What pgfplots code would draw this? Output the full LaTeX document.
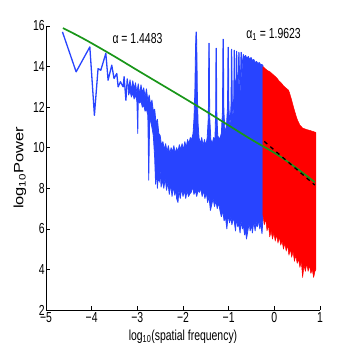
\documentclass[border=0pt]{standalone}
\usepackage{fontspec}
\setmainfont[FakeStretch=0.72]{Liberation Sans}
\newfontfamily\ylabfont[FakeStretch=1.22]{Liberation Sans}
\usepackage{pgfplots}
\pgfplotsset{compat=1.18}
\definecolor{mblue}{RGB}{40,68,255}
\definecolor{mgreen}{RGB}{25,150,25}

\begin{document}
\begin{tikzpicture}
\path[use as bounding box] (-46pt,-44pt) rectangle (308pt,310pt);
\begin{axis}[
  at={(0,0)}, anchor=south west,
  scale only axis, width=274pt, height=284pt,
  xmin=-5, xmax=1, ymin=2, ymax=16,
  axis lines=left, axis line style={-, line width=0.6pt},
  tick align=inside, major tick length=4pt,
  tick style={line width=0.6pt, black},
  xtick={-5,-4,-3,-2,-1,0,1}, xticklabels={−5,−4,−3,−2,−1,0,1},
  ytick={2,4,...,16},
  /pgf/number format/assume math mode=true,
  tick label style={font=\fontsize{14.5}{16}\selectfont},
  xticklabel style={inner sep=1pt, yshift=-1.5pt},
  yticklabel style={inner sep=1pt},
  xlabel={log\textsubscript{10}(spatial frequency)},
  ylabel={\ylabfont log\textsubscript{10}Power},
  xlabel style={font=\fontsize{14.5}{16}\selectfont, at={(axis description cs:0.5,-0.095)}, anchor=center},
  ylabel style={font=\fontsize{13.5}{15}\selectfont, at={(axis description cs:-0.095,0.5)}, anchor=center},
  line join=round,
]
% low-frequency part of the spectrum
\addplot[mblue, line width=1.3pt] coordinates {
 (-4.64,15.71) (-4.34,13.74) (-4.04,14.97) (-3.94,11.6) (-3.86,13.9) (-3.80,13.82)
 (-3.69,14.65) (-3.64,13.33) (-3.56,14.07) (-3.51,13.41) (-3.45,13.66) (-3.42,13.0)
 (-3.37,13.25) (-3.31,13.0) (-3.29,13.5) (-3.25,12.34) (-3.22,13.4)
};
% dense blue band: upper envelope left to right, lower envelope right to left
\addplot[mblue, fill=mblue, line width=0.8pt] coordinates {
 (-3.22,13.4) (-3.19,12.9) (-3.16,13.35) (-3.13,12.8) (-3.10,13.3) (-3.07,12.9)
 (-3.04,13.2) (-3.01,12.7) (-2.98,13.15) (-2.95,12.6) (-2.92,13.1) (-2.89,12.7)
 (-2.86,12.95) (-2.83,12.5) (-2.80,12.9) (-2.77,12.3) (-2.74,12.6) (-2.71,12.1)
 (-2.68,12.35) (-2.65,11.8) (-2.62,11.9) (-2.59,11.2) (-2.56,11.4) (-2.53,10.7)
 (-2.50,10.6) (-2.47,10.1) (-2.44,10.3) (-2.41,9.9) (-2.38,10.2) (-2.35,9.8)
 (-2.32,10.1) (-2.29,9.7) (-2.26,10.0) (-2.23,9.8) (-2.20,10.1) (-2.17,9.7)
 (-2.14,10.0) (-2.11,9.8) (-2.08,10.15) (-2.05,9.9) (-2.02,10.2) (-1.99,9.9)
 (-1.96,10.3) (-1.93,10.0) (-1.90,10.4) (-1.87,10.2) (-1.84,10.5) (-1.81,10.4)
 (-1.78,10.7) (-1.76,11.4) (-1.74,12.8) (-1.725,15.0) (-1.715,15.7) (-1.705,15.7)
 (-1.695,14.5) (-1.685,12.6) (-1.67,11.2) (-1.65,10.5) (-1.62,10.2) (-1.59,10.5)
 (-1.56,10.1) (-1.53,10.4) (-1.50,10.1) (-1.47,10.5) (-1.445,11.5) (-1.435,15.15)
 (-1.425,15.15) (-1.415,11.5) (-1.39,10.4) (-1.36,10.2) (-1.33,10.5) (-1.30,10.4)
 (-1.285,11.8) (-1.278,14.9) (-1.268,14.9) (-1.26,11.8) (-1.24,10.6) (-1.20,10.4)
 (-1.16,10.7) (-1.135,11.8) (-1.125,15.35) (-1.115,15.35) (-1.105,11.8) (-1.08,10.8)
 (-1.05,11.0) (-1.025,12.0) (-1.015,14.95) (-1.005,14.95) (-0.995,12.0) (-0.97,11.0)
 (-0.948,12.2) (-0.94,14.85) (-0.932,14.85) (-0.92,12.3) (-0.905,11.3) (-0.888,12.6)
 (-0.880,14.8) (-0.872,14.8) (-0.862,12.8) (-0.850,11.7) (-0.838,13.0) (-0.830,14.75)
 (-0.822,14.75) (-0.812,13.2) (-0.800,12.0) (-0.788,13.4) (-0.780,14.7) (-0.772,14.7)
 (-0.762,13.6) (-0.750,12.4) (-0.738,13.8) (-0.730,14.7) (-0.722,14.7) (-0.71,13.0)
 (-0.70,14.2) (-0.68,14.6) (-0.66,14.45) (-0.63,14.55) (-0.60,14.4) (-0.57,14.5)
 (-0.54,14.35) (-0.51,14.45) (-0.48,14.3) (-0.45,14.35) (-0.42,14.2) (-0.39,14.25)
 (-0.36,14.15) (-0.33,14.2) (-0.30,14.1) (-0.27,14.1) (-0.25,14.05)
 (-0.25,6.5) (-0.27,5.76) (-0.30,6.3) (-0.32,6.0) (-0.34,6.6) (-0.36,6.17)
 (-0.38,6.1) (-0.40,6.4) (-0.42,5.9) (-0.45,6.4) (-0.48,5.8) (-0.50,6.2)
 (-0.53,5.9) (-0.55,6.3) (-0.58,5.9) (-0.61,5.5) (-0.63,6.0) (-0.65,5.7)
 (-0.68,6.2) (-0.70,6.0) (-0.73,6.4) (-0.75,5.8) (-0.78,6.3) (-0.80,6.1)
 (-0.83,6.5) (-0.85,5.9) (-0.88,6.4) (-0.90,6.5) (-0.93,6.2) (-0.95,6.6)
 (-0.98,6.3) (-1.01,6.7) (-1.04,6.0) (-1.07,6.6) (-1.10,6.4) (-1.13,6.9)
 (-1.16,6.6) (-1.19,6.9) (-1.22,7.3) (-1.25,7.0) (-1.28,7.4) (-1.31,7.1)
 (-1.34,7.5) (-1.37,7.2) (-1.40,6.91) (-1.43,7.6) (-1.46,7.3) (-1.49,7.8)
 (-1.52,7.5) (-1.55,7.9) (-1.58,7.6) (-1.61,8.0) (-1.64,7.8) (-1.67,7.9)
 (-1.70,7.6) (-1.73,7.9) (-1.76,7.7) (-1.79,8.1) (-1.82,7.8) (-1.85,7.73)
 (-1.88,7.6) (-1.91,7.9) (-1.94,7.5) (-1.97,7.9) (-2.00,7.6) (-2.03,8.0)
 (-2.06,7.5) (-2.09,7.9) (-2.11,7.3) (-2.14,7.5) (-2.16,8.0) (-2.18,7.66)
 (-2.21,8.1) (-2.24,7.6) (-2.27,8.2) (-2.30,7.7) (-2.33,8.3) (-2.36,7.9)
 (-2.39,8.5) (-2.42,8.0) (-2.45,8.4) (-2.48,8.06) (-2.50,8.9) (-2.52,8.3)
 (-2.54,8.8) (-2.56,8.0) (-2.58,9.0) (-2.60,8.2) (-2.62,9.5) (-2.65,10.6)
 (-2.68,11.0) (-2.71,11.3) (-2.73,11.5) (-2.75,8.4) (-2.77,11.6) (-2.80,11.9)
 (-2.83,11.8) (-2.86,12.1) (-2.89,12.0) (-2.92,12.3) (-2.95,12.2) (-2.98,12.4)
 (-2.99,10.7) (-3.01,12.3) (-3.04,12.6) (-3.07,12.4) (-3.10,12.7) (-3.13,12.5)
 (-3.16,12.8) (-3.19,12.6) (-3.22,13.4)
} -- cycle;
% high-frequency part used for the fit
\addplot[red, fill=red, line width=0.5pt] coordinates {
 (-0.25,14.0) (-0.20,13.9) (-0.15,13.8) (-0.10,13.75) (-0.05,13.65) (0.00,13.55)
 (0.05,13.45) (0.10,13.3) (0.16,13.17) (0.20,13.05) (0.25,12.95) (0.31,12.84)
 (0.34,12.65) (0.38,12.34) (0.42,12.0) (0.46,11.69) (0.50,11.4) (0.56,11.11)
 (0.62,10.97) (0.70,10.9) (0.78,10.85) (0.85,10.8) (0.91,10.75)
 (0.91,4.0) (0.89,3.9) (0.86,3.6) (0.83,4.0) (0.80,3.8) (0.77,4.2) (0.74,3.9)
 (0.71,4.3) (0.68,3.9) (0.65,4.2) (0.62,3.6) (0.59,4.4) (0.56,4.1) (0.53,4.5)
 (0.50,4.3) (0.47,4.7) (0.44,4.4) (0.41,4.9) (0.38,4.6) (0.35,5.0) (0.32,4.7)
 (0.29,5.2) (0.26,4.9) (0.23,5.3) (0.20,5.0) (0.17,5.4) (0.14,5.2) (0.11,5.6)
 (0.08,5.3) (0.05,5.7) (0.02,5.4) (-0.01,5.8) (-0.04,5.5) (-0.07,5.9) (-0.10,5.6)
 (-0.13,6.2) (-0.16,5.9) (-0.19,6.5) (-0.22,6.2) (-0.25,6.7)
} -- cycle;
% fitted curve
\addplot[mgreen, line width=1.7pt, smooth] coordinates {
 (-4.63,15.9) (-4.3,15.52) (-4.0,15.15) (-3.5,14.5) (-3.0,13.82) (-2.5,13.15)
 (-2.0,12.48) (-1.5,11.8) (-1.0,11.1) (-0.5,10.4) (0,9.75) (0.3,9.3) (0.6,8.8) (0.886,8.3)
};
\addplot[black, line width=1.3pt, dash pattern=on 4pt off 4pt] coordinates {
 (-0.22,10.31) (0.886,8.16)
};
\node[anchor=base west, font=\fontsize{14.5}{16}\selectfont] at (axis cs:-3.62,15.15) {α = 1.4483};
\node[anchor=base west, font=\fontsize{14.5}{16}\selectfont] at (axis cs:-0.69,15.40) {α\textsubscript{1} = 1.9623};
\end{axis}
\end{tikzpicture}
\end{document}
